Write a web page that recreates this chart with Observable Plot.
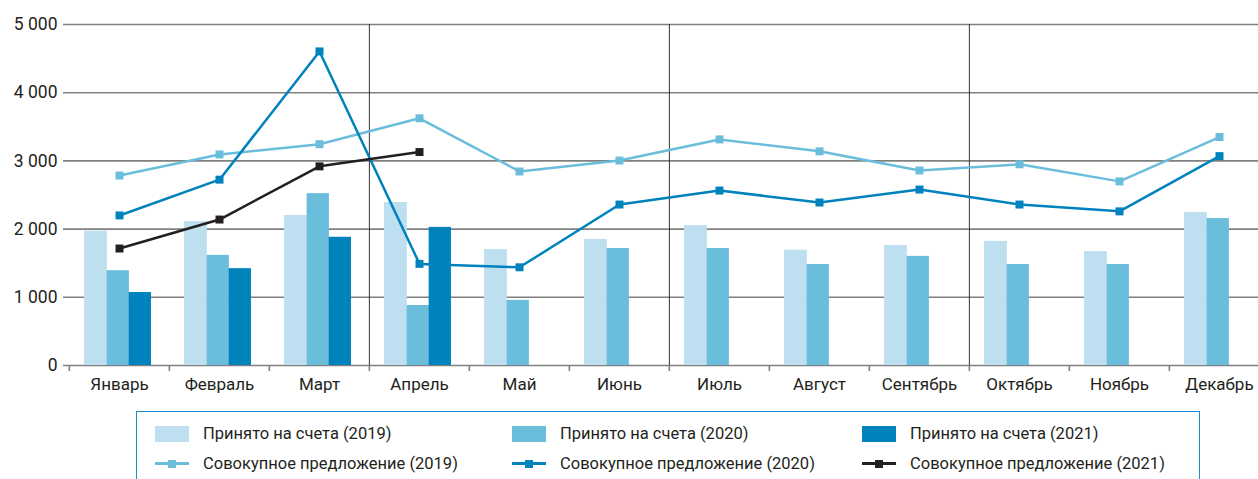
<!DOCTYPE html>
<html>
<head>
<meta charset="utf-8">
<script src="https://cdn.jsdelivr.net/npm/d3@7"></script>
<script src="https://cdn.jsdelivr.net/npm/@observablehq/plot@0.6"></script>
<style>
  html, body { margin: 0; padding: 0; background: #fff; overflow: hidden; width: 1258px; }
  body { font-family: Roboto, "Noto Sans", sans-serif; color: #231f20; }
  #chart { width: 1270px; }
  #chart svg { display: block; max-width: none !important; }
  .legend { position: relative; margin-left: 136px; margin-top: 6px; width: 1064px; height: 80px;
            border: 1.5px solid #1a8fcc; border-bottom: none; box-sizing: border-box; }
  .item { position: absolute; display: flex; align-items: center; font-size: 16.5px; white-space: nowrap; }
  .sw { width: 34px; height: 16px; margin-right: 14px; flex: none; }
  .ln { width: 34px; height: 16px; margin-right: 14px; flex: none; position: relative; }
  .ln::before { content: ""; position: absolute; left: 0; right: 0; top: 6.5px; height: 3px; background: var(--c); }
  .ln::after { content: ""; position: absolute; left: 13px; top: 4px; width: 8px; height: 8px; background: var(--c); }
</style>
</head>
<body>
<div id="chart"></div>
<div class="legend" id="legend"></div>
<script>
const months = ["Январь","Февраль","Март","Апрель","Май","Июнь","Июль","Август","Сентябрь","Октябрь","Ноябрь","Декабрь"];
const accepted2019 = [1970, 2110, 2200, 2390, 1700, 1850, 2050, 1690, 1760, 1820, 1670, 2245];
const accepted2020 = [1390, 1615, 2520, 880, 955, 1715, 1715, 1480, 1600, 1480, 1480, 2155];
const accepted2021 = [1070, 1420, 1880, 2025];
const supply2019 = [2785, 3095, 3245, 3625, 2845, 3005, 3315, 3140, 2860, 2950, 2700, 3350];
const supply2020 = [2200, 2725, 4605, 1490, 1440, 2360, 2565, 2390, 2580, 2360, 2260, 3070];
const supply2021 = [1715, 2140, 2920, 3130];
const yTicks = [0, 1000, 2000, 3000, 4000, 5000];
const quarterStarts = ["Апрель", "Июль", "Октябрь"];

const colors = {
  bar2019: "#bddff0", bar2020: "#6bbddc", bar2021: "#0082bc",
  line2019: "#6bbddc", line2020: "#0082bc", line2021: "#231f20"
};
const legendItems = [
  {label: "Принято на счета (2019)", type: "bar", color: colors.bar2019},
  {label: "Принято на счета (2020)", type: "bar", color: colors.bar2020},
  {label: "Принято на счета (2021)", type: "bar", color: colors.bar2021},
  {label: "Совокупное предложение (2019)", type: "line", color: colors.line2019},
  {label: "Совокупное предложение (2020)", type: "line", color: colors.line2020},
  {label: "Совокупное предложение (2021)", type: "line", color: colors.line2021}
];

const toRows = arr => arr.map((v, i) => ({month: months[i], value: v}));

const width = 1270, marginLeft = 67, marginRight = 0;
const bw = (width - marginLeft - marginRight) / months.length;
const fmt = d => d === 0 ? "0" : d3.format(",")(d).replace(/,/g, " ");

const chart = Plot.plot({
  width, height: 405,
  marginTop: 24, marginBottom: 40, marginLeft, marginRight,
  style: {fontFamily: "Roboto, 'Noto Sans', sans-serif", fontSize: "17px", color: "#231f20", overflow: "visible", maxWidth: "none"},
  x: {domain: months, padding: 0, axis: null, label: null},
  y: {domain: [0, 5000], axis: null, label: null},
  marks: [
    Plot.ruleY(yTicks, {stroke: "#808080", strokeWidth: 1.6, insetLeft: -4}),
    Plot.barY(toRows(accepted2019), {x: "month", y: "value", fill: colors.bar2019, insetLeft: bw * 0.15, insetRight: bw * 0.62}),
    Plot.barY(toRows(accepted2020), {x: "month", y: "value", fill: colors.bar2020, insetLeft: bw * 0.375, insetRight: bw * 0.40}),
    Plot.barY(toRows(accepted2021), {x: "month", y: "value", fill: colors.bar2021, insetLeft: bw * 0.595, insetRight: bw * 0.18}),
    Plot.ruleX(quarterStarts, {dx: -bw / 2, stroke: "#333", strokeWidth: 1}),
    Plot.axisY({ticks: yTicks, tickFormat: fmt, tickSize: 0, tickPadding: 10, fontSize: 17.5, line: true, stroke: "#231f20", label: null}),
    Plot.axisX({ticks: months, tickFormat: () => "", tickSize: 6, dx: -bw / 2, stroke: "#808080", strokeWidth: 1.6, label: null}),
    Plot.axisX({ticks: months, tickSize: 0, tickPadding: 12, fontSize: 17, label: null}),
    Plot.line(toRows(supply2019), {x: "month", y: "value", stroke: colors.line2019, strokeWidth: 2.5}),
    Plot.dot(toRows(supply2019), {x: "month", y: "value", symbol: "square", r: 4.5, fill: colors.line2019}),
    Plot.line(toRows(supply2020), {x: "month", y: "value", stroke: colors.line2020, strokeWidth: 2.5}),
    Plot.dot(toRows(supply2020), {x: "month", y: "value", symbol: "square", r: 4.5, fill: colors.line2020}),
    Plot.line(toRows(supply2021), {x: "month", y: "value", stroke: colors.line2021, strokeWidth: 2.5}),
    Plot.dot(toRows(supply2021), {x: "month", y: "value", symbol: "square", r: 4.5, fill: colors.line2021})
  ]
});
document.getElementById("chart").appendChild(chart);

const legend = document.getElementById("legend");
const colX = [18, 375, 725];
const rowY = [12, 42];
legendItems.forEach((it, i) => {
  const d = document.createElement("div");
  d.className = "item";
  d.style.left = colX[i % 3] + "px";
  d.style.top = rowY[Math.floor(i / 3)] + "px";
  const s = document.createElement("span");
  if (it.type === "bar") { s.className = "sw"; s.style.background = it.color; }
  else { s.className = "ln"; s.style.setProperty("--c", it.color); }
  const t = document.createElement("span");
  t.textContent = it.label;
  d.appendChild(s); d.appendChild(t);
  legend.appendChild(d);
});
</script>
</body>
</html>
